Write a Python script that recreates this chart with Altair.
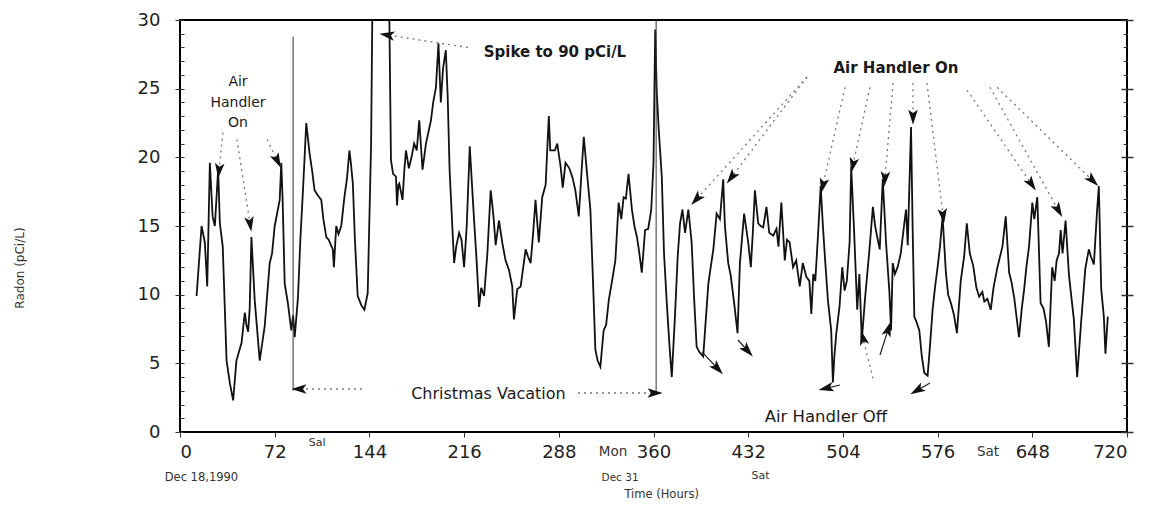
import math
import altair as alt
import pandas as pd

# ---- radon trace (hours since Dec 18, 1990 ; pCi/L) ----
hours = [12.6, 16.4, 18.9, 20.7, 22.7, 24.8, 26.5, 29.0, 30.3, 32.5, 35.4, 38.0, 40.4, 42.9,
         46.8, 49.3, 50.5, 51.8, 53.0, 54.3, 56.8, 60.6, 64.4, 68.2, 70.0, 72.0, 75.8, 77.0,
         78.0, 79.6, 82.0, 84.6, 86.0, 87.2, 89.7, 91.5, 93.5, 96.0, 98.5, 100.5, 102.3, 105.0,
         107.4, 109.0, 111.2, 113.0, 116.2, 117.0, 118.8, 120.5, 122.6, 125.0, 127.0, 128.8,
         130.0, 131.4, 133.0, 135.1, 138.0, 140.2, 142.7, 145.3, 152.0, 160.4, 162.0, 164.2,
         165.0, 166.0, 166.7, 169.2, 170.5, 171.8, 174.0, 176.0, 178.0, 180.0, 181.9, 184.4,
         187.0, 190.8, 192.5, 194.6, 196.5, 198.3, 200.0, 202.1, 203.5, 205.0, 208.4, 210.0,
         212.2, 214.0, 216.0, 218.0, 220.3, 223.6, 225.5, 227.4, 229.0, 231.2, 233.7, 236.2,
         237.5, 238.5, 240.0, 242.5, 245.0, 247.5, 250.1, 252.6, 253.9, 256.4, 259.0, 262.8,
         264.5, 266.6, 268.5, 270.3, 272.8, 275.4, 278.0, 280.4, 281.5, 283.0, 285.0, 286.8,
         289.3, 291.0, 293.1, 296.0, 298.5, 300.6, 303.2, 305.0, 307.0, 309.5, 312.0, 314.0,
         315.8, 317.5, 319.6, 322.1, 324.0, 326.0, 328.5, 331.0, 333.5, 335.5, 337.3, 339.0,
         341.0, 343.6, 345.5, 347.4, 349.0, 351.1, 353.6, 356.0, 358.3, 360.0, 361.3, 362.5,
         364.0, 366.3, 368.0, 370.1, 372.0, 373.9, 376.4, 378.4, 380.2, 382.0, 384.0, 386.5,
         389.0, 391.0, 392.8, 395.0, 397.8, 399.2, 401.7, 403.5, 405.5, 408.0, 410.5, 413.0,
         414.3, 416.8, 418.7, 421.3, 423.9, 425.7, 428.9, 432.0, 434.0, 435.5, 437.1, 439.6,
         441.5, 443.4, 445.9, 448.0, 451.0, 453.5, 455.0, 457.2, 459.8, 461.5, 463.5, 466.1,
         468.5, 471.2, 473.5, 476.2, 478.5, 480.0, 481.5, 483.0, 485.0, 487.1, 488.8, 490.5,
         492.6, 495.1, 496.4, 497.5, 499.0, 501.5, 503.5, 505.3, 507.0, 509.1, 510.3, 512.4,
         514.9, 516.5, 518.4, 520.9, 524.2, 526.8, 528.5, 530.1, 532.0, 534.3, 536.8, 539.4,
         540.6, 541.9, 543.5, 545.6, 548.0, 550.7, 552.0, 553.3, 555.8, 557.0, 558.3, 560.0,
         562.1, 564.0, 565.9, 568.4, 570.0, 572.2, 574.0, 576.0, 577.8, 579.8, 582.3, 584.0,
         586.1, 588.5, 590.7, 593.6, 596.2, 598.2, 600.5, 603.1, 605.5, 607.6, 610.0, 611.5,
         613.9, 616.4, 618.5, 621.5, 625.3, 627.8, 630.4, 632.0, 634.2, 637.9, 640.0, 641.7,
         643.5, 645.5, 648.0, 649.5, 651.8, 654.3, 656.5, 658.5, 660.6, 663.1, 665.0, 666.5,
         668.3, 669.6, 671.0, 673.3, 675.9, 677.5, 679.6, 682.1, 685.2, 688.3, 691.0, 692.5,
         694.8, 697.3, 698.6, 700.4, 702.4, 703.6, 705.4]
radon = [9.9, 15.0, 13.8, 10.6, 19.6, 15.7, 15.0, 19.1, 15.2, 13.5, 5.2, 3.5, 2.3, 5.2,
         6.5, 8.7, 7.8, 7.3, 9.0, 14.2, 9.6, 5.2, 7.7, 12.3, 13.0, 15.0, 16.9, 19.6,
         17.0, 10.8, 9.4, 7.4, 8.5, 6.9, 9.8, 14.0, 17.6, 22.5, 20.3, 19.0, 17.6, 17.2,
         16.9, 15.5, 14.2, 14.0, 13.3, 12.0, 15.0, 14.4, 15.0, 17.1, 18.5, 20.5,
         19.5, 18.1, 14.0, 9.9, 9.2, 8.9, 10.1, 21.0, 90.0, 19.8, 18.8, 18.6,
         16.5, 18.0, 18.1, 16.9, 19.0, 20.5, 19.2, 20.0, 21.0, 20.5, 22.7, 19.1,
         21.0, 22.7, 24.0, 25.1, 28.3, 24.0, 26.5, 27.8, 24.5, 19.0, 12.3, 13.5,
         14.5, 14.0, 12.0, 15.0, 20.8, 15.4, 12.5, 9.1, 10.5, 9.9, 13.0, 17.6,
         16.5, 15.5, 13.6, 15.4, 13.8, 12.5, 11.8, 10.6, 8.2, 10.4, 10.6, 13.3,
         12.8, 12.3, 14.5, 16.9, 13.8, 17.1, 18.0, 23.0, 20.5, 20.5, 20.5, 21.0,
         19.4, 17.8, 19.6, 19.2, 18.5, 17.6, 15.7, 18.5, 21.5, 18.8, 16.2, 11.0,
         6.0, 5.2, 4.75, 7.4, 7.8, 9.6, 11.0, 12.5, 16.7, 15.5, 17.1, 17.0,
         18.8, 16.2, 15.0, 14.2, 13.2, 11.6, 14.7, 14.8, 16.2, 19.6, 29.3, 24.7,
         22.0, 18.6, 13.0, 9.4, 6.5, 4.0, 8.6, 12.8, 15.2, 16.2, 14.5, 16.2,
         13.8, 9.5, 6.2, 5.8, 5.5, 7.4, 10.8, 12.0, 13.3, 15.9, 15.5, 18.4,
         15.0, 12.3, 11.4, 9.4, 7.2, 12.3, 15.9, 13.8, 12.0, 14.5, 17.6, 15.2,
         15.0, 14.9, 16.4, 14.5, 14.3, 14.8, 13.5, 16.7, 12.5, 14.0, 13.8, 12.0,
         12.5, 10.6, 12.3, 11.3, 11.0, 8.6, 11.5, 11.0, 14.2, 17.9, 15.0, 12.5,
         9.6, 7.4, 3.6, 5.5, 7.2, 9.2, 12.0, 10.3, 11.0, 13.8, 19.3, 14.9,
         8.9, 11.5, 6.7, 9.8, 13.3, 16.4, 15.0, 14.2, 13.3, 18.4, 13.8, 10.1,
         7.4, 12.3, 11.5, 12.0, 13.0, 15.2, 16.2, 13.6, 22.2, 15.0, 8.4, 8.0,
         7.4, 5.5, 4.3, 4.1, 6.0, 8.9, 10.5, 12.0, 13.5, 15.7, 11.6, 10.0,
         9.4, 8.5, 7.2, 11.0, 12.8, 15.2, 13.0, 12.1, 10.5, 9.85, 10.2, 9.5,
         9.7, 8.9, 10.5, 12.0, 13.5, 15.7, 11.6, 11.0, 9.8, 6.9, 9.0, 10.3,
         12.0, 13.5, 16.7, 15.5, 17.1, 9.4, 9.0, 8.0, 6.2, 12.0, 11.0, 12.5,
         13.0, 14.7, 13.0, 15.4, 11.4, 10.0, 8.2, 4.0, 8.1, 11.9, 13.3, 12.8,
         12.2, 16.2, 17.9, 10.4, 8.4, 5.7, 8.4]

x_ticks = [0, 72, 144, 216, 288, 360, 432, 504, 576, 648, 720]
y_ticks = [0, 5, 10, 15, 20, 25, 30]
y_minor = list(range(0, 31))

# Christmas-vacation boundary markers
vac_h = [86.0, 362.0]
vac_lo = [3.0, 3.0]
vac_hi = [28.8, 31.0]

# dotted annotation arrows (tail -> head), data coordinates
dot_tail_h = [32.7, 43.3, 66.2, 218.9, 138.4, 302.6, 476.7, 476.7, 505.6, 524.6, 542.1,
              557.3, 567.9, 598.4, 615.8, 621.2, 526.9]
dot_tail_v = [21.8, 21.3, 21.3, 28.0, 3.13, 2.84, 25.85, 25.85, 25.1, 25.1, 25.4,
              25.4, 25.4, 24.9, 25.1, 25.1, 3.9]
dot_head_h = [29.7, 53.2, 73.8, 158.1, 91.2, 360.4, 393.1, 419.7, 488.9, 511.7, 536.0,
              557.3, 580.1, 647.0, 667.5, 693.4, 519.3]
dot_head_v = [19.1, 15.2, 19.8, 28.9, 3.13, 2.84, 17.0, 18.6, 18.0, 19.5, 18.5,
              23.0, 15.8, 18.1, 16.2, 18.35, 6.8]
# short solid arrows ("Air Handler Off")
sol_tail_h = [396.9, 424.2, 501.8, 532.2, 570.2]
sol_tail_v = [5.83, 6.7, 3.42, 5.61, 3.57]
sol_head_h = [408.3, 431.1, 491.9, 538.3, 561.0]
sol_head_v = [4.66, 5.97, 3.2, 7.43, 3.06]

# text annotations inside the plot
in_text = ["Air", "Handler", "On", "Spike to 90 pCi/L", "Air Handler On",
           "Christmas Vacation", "Air Handler Off"]
in_h = [44.1, 44.1, 44.1, 285.1, 544.3, 234.5, 491.1]
in_v = [25.5, 23.96, 22.5, 27.67, 26.48, 2.77, 1.12]
in_size = [14, 14, 14, 15, 15, 16, 16.5]
in_weight = ["normal", "normal", "normal", "bold", "bold", "normal", "normal"]

# texts below the axis
out_text = ["Sal", "Mon", "Sat", "Dec 31", "Sat", "Dec 18,1990", "Time  (Hours)"]
out_h = [104.2, 329.2, 614.3, 334.6, 441.3, 16.3, 366.2]
out_v = [-0.8, -1.46, -1.46, -3.35, -3.2, -3.35, -4.62]
out_size = [11, 13.5, 13.5, 10.5, 11, 11.5, 11.5]

W, H = 947, 412
XMAX, YMAX = 720.0, 30.0
KX, KY = W / XMAX, H / YMAX
FONT = "DejaVu Sans"

xs = alt.Scale(domain=[0, XMAX], nice=False, zero=False)
ys = alt.Scale(domain=[0, YMAX], nice=False, zero=False)

X_AXIS = alt.Axis(values=x_ticks, tickSize=5, labelPadding=6, domain=False, grid=False,
                  labelFontSize=18, labelColor="#222", tickColor="#333", labelFont=FONT,
                  title=None)


def X(f):
    return alt.X(f, type="quantitative", scale=xs, axis=X_AXIS, title=None)


def Y(f):
    return alt.Y(f, type="quantitative", scale=ys, axis=None)


def arrow_df(th, tv, hh, hv):
    ang = []
    for a, b, c, d in zip(th, tv, hh, hv):
        t = math.degrees(math.atan2((c - a) * KX, (d - b) * KY)) % 360
        ang.append(t)
    return pd.DataFrame({"th": th, "tv": tv, "hh": hh, "hv": hv, "ang": ang})


line_df = pd.DataFrame({"h": hours, "r": radon})
line = alt.Chart(line_df).mark_line(color="#111", strokeWidth=1.8, clip=True).encode(
    x=X("h"),
    y=alt.Y("r:Q", scale=ys, title=None,
            axis=alt.Axis(values=y_ticks, tickSize=5, labelPadding=15, domain=False,
                          grid=False, labelFontSize=18, labelColor="#222", tickColor="#333",
                          labelFont=FONT)),
)

vac_df = pd.DataFrame({"h": vac_h, "lo": vac_lo, "hi": vac_hi})
vac = alt.Chart(vac_df).mark_rule(color="#333", strokeWidth=1, clip=True).encode(
    x=X("h"), y=Y("lo"), y2="hi")

dot_df = arrow_df(dot_tail_h, dot_tail_v, dot_head_h, dot_head_v)
sol_df = arrow_df(sol_tail_h, sol_tail_v, sol_head_h, sol_head_v)

dot_rules = alt.Chart(dot_df).mark_rule(color="#777", strokeWidth=1.3, strokeDash=[2, 4]).encode(
    x=X("th"), y=Y("tv"), x2="hh", y2="hv")
sol_rules = alt.Chart(sol_df).mark_rule(color="#222", strokeWidth=1.2).encode(
    x=X("th"), y=Y("tv"), x2="hh", y2="hv")

ARROW = "M0,-1L0.55,0.75L0,0.35L-0.55,0.75Z"
heads = alt.Chart(pd.concat([dot_df, sol_df], ignore_index=True)).mark_point(
    shape=ARROW, filled=True, color="#111", size=300, opacity=1).encode(
    x=X("hh"), y=Y("hv"), angle=alt.Angle("ang:Q", scale=None))

in_df = pd.DataFrame({"t": in_text, "h": in_h, "v": in_v, "s": in_size, "w": in_weight})
texts_in = []
for s in sorted(set(in_size)):
    for w in ["normal", "bold"]:
        sub = in_df[(in_df.s == s) & (in_df.w == w)]
        if len(sub):
            texts_in.append(alt.Chart(sub).mark_text(
                font=FONT, fontSize=s, fontWeight=w, color="#1a1a1a", align="center",
                baseline="middle").encode(x=X("h"), y=Y("v"), text="t:N"))

out_df = pd.DataFrame({"t": out_text, "h": out_h, "v": out_v, "s": out_size})
texts_out = []
for s in sorted(set(out_size)):
    sub = out_df[out_df.s == s]
    texts_out.append(alt.Chart(sub).mark_text(
        font=FONT, fontSize=s, color="#333", align="center", baseline="middle").encode(
        x=X("h"), y=Y("v"), text="t:N"))

ytitle = alt.Chart(pd.DataFrame({"t": ["Radon  (pCi/L)"], "h": [-121.6], "v": [11.94]})).mark_text(
    font=FONT, fontSize=12, color="#333", angle=270, align="center", baseline="middle").encode(
    x=X("h"), y=Y("v"), text="t:N")


def tick_layer(orient, values, size, offset, width):
    return alt.Chart(pd.DataFrame({"v": values, "h": [0.0] * len(values)})).mark_point(
        opacity=0).encode(
        x=X("h"),
        y=alt.Y("v:Q", scale=ys, title=None,
                axis=alt.Axis(orient=orient, values=values, labels=False, tickSize=size,
                              offset=offset, domain=False, grid=False, tickColor="#333",
                              tickWidth=width)))


right_major = tick_layer("right", y_ticks, 12, -6, 1.5)
left_minor = tick_layer("left", y_minor, 4, -4, 1)
right_minor = tick_layer("right", y_minor, 4, -4, 1)

chart = alt.layer(line, vac, dot_rules, sol_rules, heads, *texts_in, *texts_out, ytitle,
                  right_major, left_minor, right_minor).resolve_scale(y="independent").properties(
    width=W, height=H,
    autosize=alt.AutoSizeParams(type="none"),
    padding={"left": 172, "top": 12, "right": 12, "bottom": 72},
    background="white",
).configure_view(stroke="black", strokeWidth=2)

chart.save("out.html", embed_options={"renderer": "svg", "actions": False})
